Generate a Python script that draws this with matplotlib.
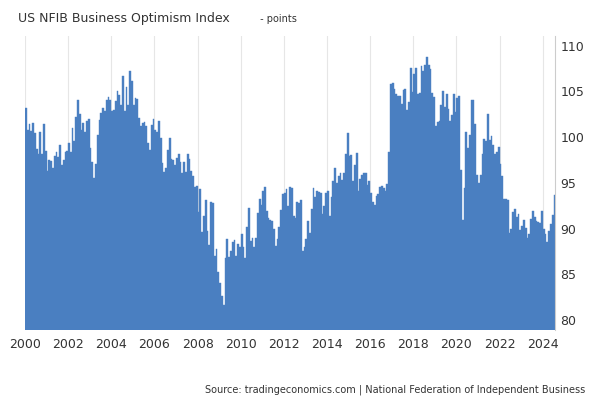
import matplotlib
matplotlib.use("Agg")
import matplotlib.pyplot as plt
import numpy as np

start_year = 2000
values = [
 # 2000
 103.2,100.8,101.4,100.7,101.5,100.4,98.7,98.2,100.5,98.2,101.4,98.5,
 # 2001
 96.3,97.5,97.4,96.6,97.9,98.4,97.8,99.1,96.9,97.5,98.4,98.5,
 # 2002
 99.3,98.4,101.0,99.6,102.2,104.0,102.5,100.8,101.5,100.5,101.8,102.0,
 # 2003
 98.8,97.3,95.5,97.1,100.2,101.9,102.6,103.2,102.8,104.0,104.4,104.0,
 # 2004
 102.8,103.0,103.9,105.0,104.6,103.5,106.7,102.8,105.5,103.5,107.2,106.1,
 # 2005
 103.5,104.3,104.2,102.1,101.2,101.5,101.7,101.2,99.4,98.6,101.3,102.0,
 # 2006
 100.8,100.6,101.8,99.9,97.2,96.2,96.6,98.6,99.9,97.6,97.5,97.0,
 # 2007
 97.7,98.2,97.3,96.1,97.3,96.2,98.2,97.6,96.3,95.7,94.5,94.6,
 # 2008
 91.8,94.3,89.6,91.4,93.1,89.7,88.2,92.9,92.8,87.0,87.8,85.2,
 # 2009
 84.1,82.6,81.6,86.8,88.9,86.9,87.5,88.5,88.8,87.0,88.3,88.0,
 # 2010
 89.4,88.0,86.8,90.2,92.2,88.6,89.0,88.0,89.0,91.7,93.2,92.6,
 # 2011
 94.1,94.5,91.9,91.2,90.9,90.8,89.9,88.1,88.9,90.2,92.0,93.8,
 # 2012
 93.9,94.3,92.5,94.5,94.4,91.4,91.2,92.9,92.8,93.1,87.5,88.0,
 # 2013
 88.9,90.8,89.5,92.1,94.4,93.5,94.1,94.0,93.9,91.6,92.5,93.9,
 # 2014
 94.1,91.4,93.4,95.2,96.6,95.0,95.7,96.1,95.3,96.1,98.1,100.4,
 # 2015
 97.9,98.0,95.2,96.9,98.3,94.1,95.4,95.9,96.1,96.1,94.8,95.2,
 # 2016
 93.9,92.9,92.6,93.6,93.8,94.5,94.6,94.4,94.1,94.9,98.4,105.8,
 # 2017
 105.9,105.3,104.7,104.5,104.5,103.6,105.2,105.3,103.0,103.8,107.5,104.9,
 # 2018
 106.9,107.6,104.7,104.8,107.8,107.2,107.9,108.8,107.9,107.4,104.8,104.4,
 # 2019
 101.2,101.7,101.8,103.5,105.0,103.3,104.7,103.1,101.8,102.4,104.7,102.7,
 # 2020
 104.3,104.5,96.4,90.9,94.4,100.6,98.8,100.2,104.0,104.0,101.4,95.9,
 # 2021
 95.0,95.8,98.2,99.8,99.6,102.5,99.7,100.1,99.1,98.2,98.4,98.9,
 # 2022
 97.1,95.7,93.2,93.2,93.1,89.5,89.9,91.8,92.1,91.3,91.6,89.8,
 # 2023
 90.3,90.9,90.1,89.0,89.4,91.0,91.9,91.3,90.8,90.7,90.6,91.9,
 # 2024
 89.9,89.4,88.5,89.7,90.5,91.5,93.7,
]

x = start_year + np.arange(len(values)) / 12.0
color = "#4a7fc1"

fig = plt.figure(figsize=(5.94, 4.05), dpi=100)
ax = fig.add_axes([0.042, 0.185, 0.893, 0.725])
ymin = 78.9
ax.bar(x, np.array(values) - ymin, bottom=ymin, width=1/12, align="edge",
       color=color, edgecolor=color, linewidth=0.3)
ax.set_xlim(2000, 2024 + 7/12)
ax.set_ylim(ymin, 111)
ax.yaxis.tick_right()
ax.set_yticks([80, 85, 90, 95, 100, 105, 110])
ax.set_xticks(range(2000, 2025, 2))
ax.tick_params(axis="both", length=0, labelsize=9, colors="#333333")
ax.tick_params(axis="x", pad=6)
ax.grid(axis="x", color="#e6e6e6", linewidth=0.8)
ax.set_axisbelow(True)
for s in ["top", "left", "bottom"]:
    ax.spines[s].set_visible(False)
ax.spines["right"].set_color("#cccccc")

fig.text(0.03, 0.955, "US NFIB Business Optimism Index", fontsize=9, color="#333333", va="center")
fig.text(0.432, 0.952, " - points", fontsize=7, color="#333333", va="center")
fig.text(0.985, 0.03, "Source: tradingeconomics.com | National Federation of Independent Business",
         fontsize=7, color="#333333", ha="right")
fig.savefig("out.png", dpi=100)
